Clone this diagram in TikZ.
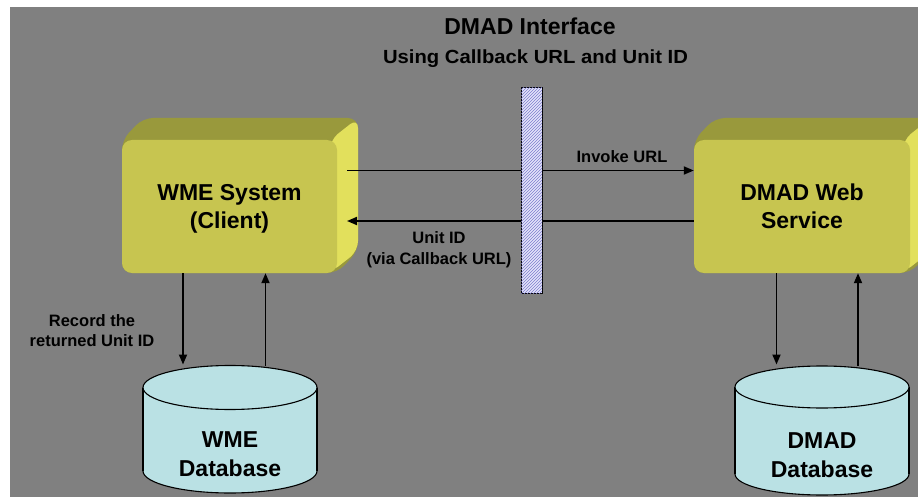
\documentclass[tikz,border=0pt]{standalone}
\usepackage{fontspec}
\setmainfont{Liberation Sans}
\usetikzlibrary{arrows.meta,patterns}
\definecolor{bg}{RGB}{128,128,128}
\definecolor{boxfront}{RGB}{199,197,80}
\definecolor{boxtop}{RGB}{153,153,60}
\definecolor{boxside}{RGB}{226,224,92}
\definecolor{dbfill}{RGB}{186,225,228}
\definecolor{barfill}{RGB}{228,228,250}
\definecolor{hatch}{RGB}{125,125,205}
\begin{document}
\begin{tikzpicture}[x=1pt,y=-1pt,
  arr/.style={line width=1.8pt,-{Triangle[length=10pt,width=8pt]}},
  frontface/.style={fill=boxfront, rounded corners=10pt, minimum height=133pt,
    inner sep=0pt, align=center, text height=44.5pt, text depth=0pt,
    font=\fontsize{23}{28}\selectfont\bfseries},
  dbtext/.style={inner sep=0pt, align=center, text height=45.5pt, text depth=0pt,
    font=\fontsize{23}{29}\selectfont\bfseries},
  lbl/.style={inner sep=0pt, align=center, text height=11.8pt, text depth=0pt,
    font=\fontsize{16.5}{20.5}\selectfont\bfseries},
  lbltwo/.style={lbl, text height=32.3pt},
  dbbody/.style={fill=dbfill, draw=black, line width=1.1pt}
]
\clip (0,0) rectangle (918,497);
\fill[white] (0,0) rectangle (918,497);
\fill[bg] (10,7) rectangle (918,497);

% ---- WME 3D box ----
\fill[boxtop, rounded corners=10pt] (122,273) -- (122,140) -- (143,118) -- (358,118) -- (358,251) -- (337,273) -- cycle;
\fill[boxside, rounded corners=10pt] (330,140) -- (358,118) -- (358,251) -- (330,273) -- cycle;
\node[frontface, minimum width=215pt] (wme) at (229.5,206.5) {WME System\\(Client)};

% ---- DMAD 3D box ----
\fill[boxtop, rounded corners=10pt] (694,273) -- (694,140) -- (715,118) -- (931,118) -- (931,251) -- (910,273) -- cycle;
\fill[boxside, rounded corners=10pt] (903,140) -- (931,118) -- (931,251) -- (903,273) -- cycle;
\node[frontface, minimum width=216pt] (dmad) at (802,206.5) {DMAD Web\\Service};

% ---- databases ----
\fill[dbbody] (230,471) ellipse [x radius=87pt, y radius=22pt];
\fill[dbfill] (143,387.5) rectangle (317,471);
\draw[line width=1.1pt] (143,387.5) -- (143,471) (317,387.5) -- (317,471);
\filldraw[dbbody] (230,387.5) ellipse [x radius=87pt, y radius=22pt];
\node[dbtext] (wmedb) at (230,453.95) {WME\\Database};

\fill[dbbody] (822,474) ellipse [x radius=87pt, y radius=21pt];
\fill[dbfill] (735,387) rectangle (909,474);
\draw[line width=1.1pt] (735,387) -- (735,474) (909,387) -- (909,474);
\filldraw[dbbody] (822,387) ellipse [x radius=87pt, y radius=21pt];
\node[dbtext] (dmaddb) at (822,454.25) {DMAD\\Database};

% ---- connector end points ----
\coordinate (s1) at (347,170.5);
\coordinate (s2) at (347,221);
\coordinate (w1) at (183,364.5);
\coordinate (w2) at (265.5,365.5);
\coordinate (d1) at (776.5,364.5);
\coordinate (d2) at (858,366);

% ---- connectors ----
\draw[arr] (s1) -- (dmad.west |- s1);
\draw[arr] (dmad.west |- s2) -- (s2);
\draw[arr] (wme.south -| w1) -- (w1);
\draw[arr] (w2) -- (wme.south -| w2);
\draw[arr] (dmad.south -| d1) -- (d1);
\draw[arr] (d2) -- (dmad.south -| d2);

% ---- interface bar ----
\node[draw=black, line width=1pt, fill=barfill, minimum width=21pt, minimum height=205pt,
  inner sep=0pt, postaction={pattern=north east lines, pattern color=hatch}] (bar) at (531.5,190.5) {};

% ---- labels ----
\node[anchor=base, inner sep=0pt, font=\fontsize{23}{28}\selectfont\bfseries] (title) at (530,35) {DMAD Interface};
\node[anchor=base, inner sep=0pt, font=\fontsize{19}{23}\selectfont\bfseries] (subtitle) at (535.5,64) {\scalebox{1.066}[1]{Using Callback URL and Unit ID}};
\node[lbl] (invoke) at (622,156.8) {Invoke URL};
\node[lbltwo] (unitid) at (439,247.85) {Unit ID\\(via Callback URL)};
\node[lbltwo] (record) at (92,330.5) {Record the\\returned Unit ID};
\end{tikzpicture}
\end{document}
